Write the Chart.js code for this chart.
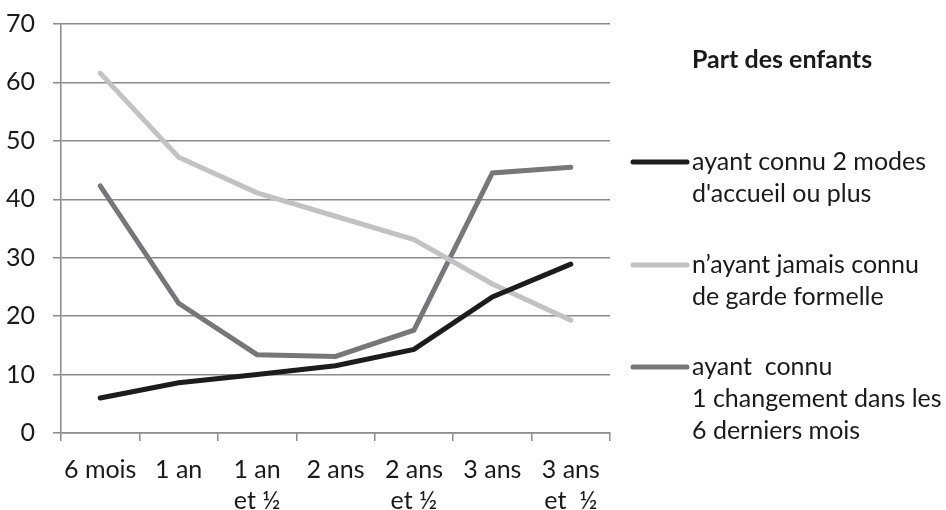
<!DOCTYPE html>
<html>
<head>
<meta charset="utf-8">
<script src="https://cdn.jsdelivr.net/npm/chart.js@4/dist/chart.umd.min.js"></script>
<style>
  html, body { margin: 0; padding: 0; background: #ffffff; }
  #wrap { width: 946px; height: 510px; }
</style>
</head>
<body>
<div id="wrap"><canvas id="chart" width="946" height="510"></canvas></div>
<script>
// Age categories along the horizontal axis
const categories = ['6 mois', '1 an', ['1 an', 'et ½'], '2 ans', ['2 ans', 'et ½'], '3 ans', ['3 ans', 'et  ½']];

// Share of children (%) for each group
const twoModes    = [6.0, 8.6, 10.0, 11.5, 14.3, 23.3, 28.9];
const neverFormal = [61.6, 47.2, 41.1, 37.1, 33.1, 25.5, 19.3];
const oneChange   = [42.3, 22.2, 13.4, 13.1, 17.6, 44.5, 45.5];

// Legend texts
const legendTitle = 'Part des enfants';
const legendTwoModes    = ['ayant connu 2 modes', "d'accueil ou plus"];
const legendNeverFormal = ['n’ayant jamais connu', 'de garde formelle'];
const legendOneChange   = ['ayant  connu', '1 changement dans les', '6 derniers mois'];

// Y axis ticks
const yMin = 0, yMax = 70, yStep = 10;

const FONT = 'Lato, "Open Sans", sans-serif';
const TEXT = '#1a1a1a';
const GRID = '#8a8a8a';

const series = [
  { label: legendTwoModes,    data: twoModes,    color: '#1c1c1c' },
  { label: legendNeverFormal, data: neverFormal, color: '#c2c2c4' },
  { label: legendOneChange,   data: oneChange,   color: '#77777a' }
];

// Legend drawn to the right of the plot, with multi-line entries
const sideLegend = {
  id: 'sideLegend',
  afterDraw(chart) {
    const ctx = chart.ctx;
    const textX = 692, lineX0 = 633, lineX1 = 687;
    const lineStep = 32;
    const rows = [162, 265, 367];
    ctx.save();
    ctx.fillStyle = TEXT;
    ctx.textAlign = 'left';
    ctx.textBaseline = 'middle';
    ctx.font = 'bold 25px ' + FONT;
    ctx.fillText(legendTitle, textX, 60);
    ctx.font = '25px ' + FONT;
    chart.data.datasets.forEach((ds, i) => {
      const y0 = rows[i];
      ctx.strokeStyle = ds.borderColor;
      ctx.lineWidth = 5;
      ctx.lineCap = 'round';
      ctx.beginPath();
      ctx.moveTo(lineX0, y0);
      ctx.lineTo(lineX1, y0);
      ctx.stroke();
      ds.label.forEach((t, k) => ctx.fillText(t, textX, y0 + k * lineStep));
    });
    ctx.restore();
  }
};

new Chart(document.getElementById('chart'), {
  type: 'line',
  data: {
    labels: categories,
    datasets: series.map(s => ({
      label: s.label,
      data: s.data,
      borderColor: s.color,
      backgroundColor: s.color,
      borderWidth: 5,
      borderCapStyle: 'round',
      borderJoinStyle: 'miter',
      pointRadius: 0,
      pointHoverRadius: 0,
      tension: 0,
      fill: false
    }))
  },
  options: {
    responsive: false,
    animation: false,
    events: [],
    layout: { padding: { top: 24, right: 336, left: 0, bottom: 0 } },
    plugins: {
      legend: { display: false },
      tooltip: { enabled: false },
      title: { display: false }
    },
    scales: {
      x: {
        type: 'category',
        offset: true,
        grid: {
          offset: true,
          drawOnChartArea: false,
          drawTicks: true,
          tickLength: 8,
          color: GRID,
          lineWidth: 1.5
        },
        border: { display: true, color: GRID, width: 1.5 },
        ticks: {
          color: TEXT,
          font: { family: FONT, size: 25, lineHeight: 1.24 },
          padding: 13,
          maxRotation: 0,
          minRotation: 0,
          autoSkip: false
        },
        afterFit(scale) {
          scale.height = 77;
          scale.paddingLeft = 0;
          scale.paddingRight = 0;
        }
      },
      y: {
        min: yMin,
        max: yMax,
        grid: {
          color: GRID,
          lineWidth: 1.5,
          drawTicks: true,
          tickLength: 8
        },
        border: { display: true, color: GRID, width: 1.5 },
        ticks: {
          stepSize: yStep,
          color: TEXT,
          font: { family: FONT, size: 25 },
          padding: 18
        },
        afterFit(scale) {
          scale.width = 61;
          scale.paddingTop = 0;
          scale.paddingBottom = 0;
        }
      }
    }
  },
  plugins: [sideLegend]
});
</script>
</body>
</html>
